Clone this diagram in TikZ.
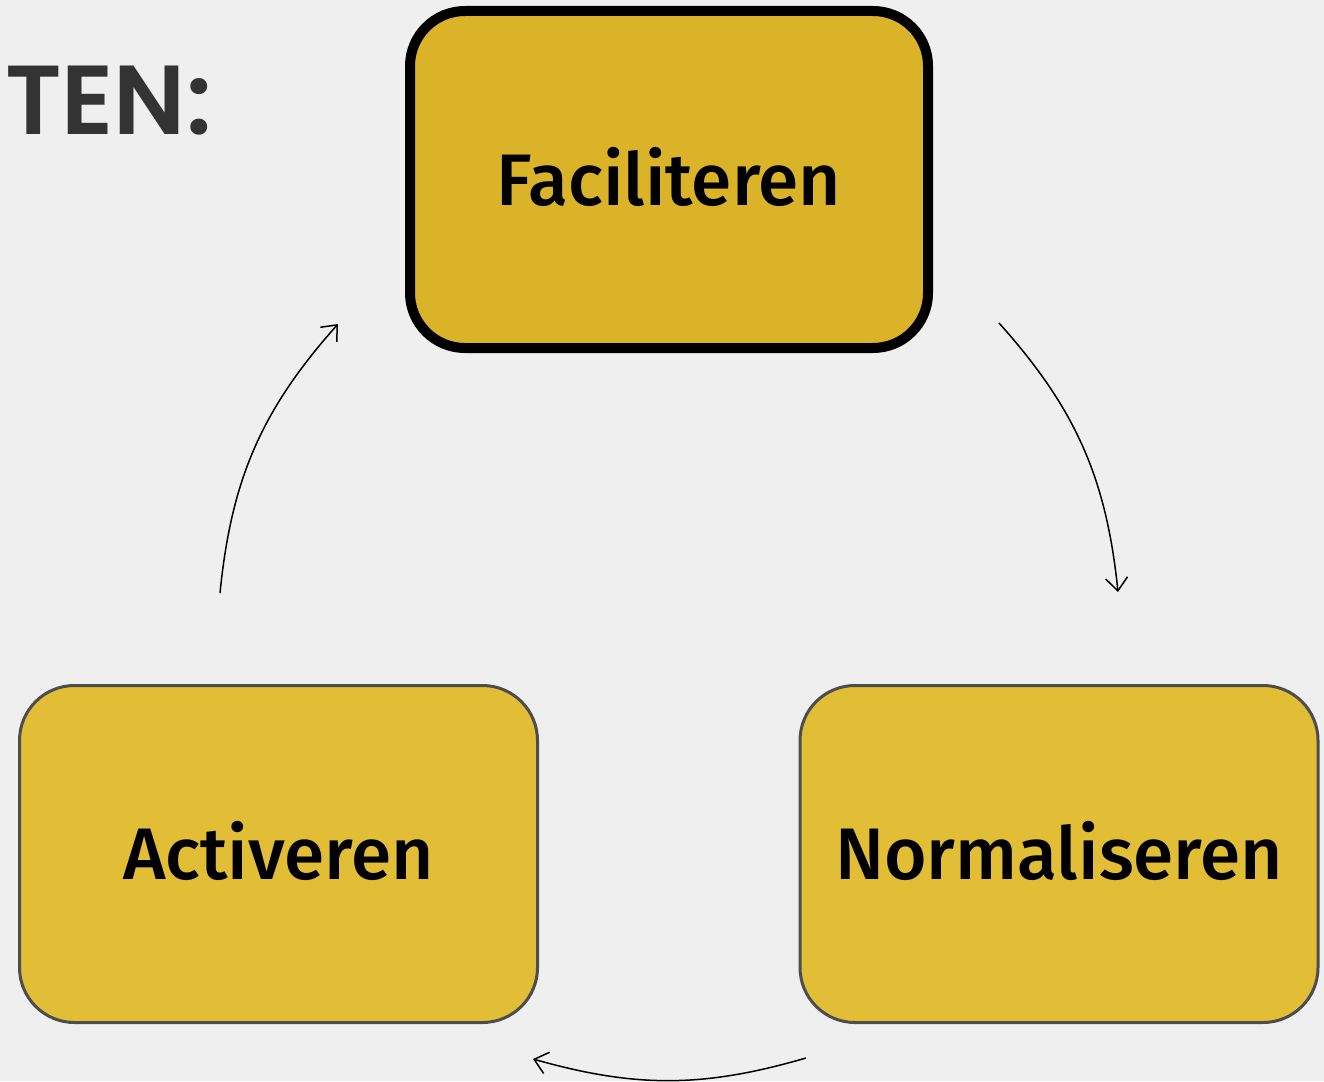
\documentclass[tikz,border=0pt]{standalone}
\usepackage{fontspec}
\usetikzlibrary{arrows.meta}
\newfontfamily\boxfont{Fira Sans}[UprightFont=* Medium]
\newfontfamily\headfont{Poppins}[UprightFont=* SemiBold]
\definecolor{bgcol}{RGB}{239,239,239}
\definecolor{faccol}{RGB}{218,179,41}
\definecolor{stepcol}{RGB}{225,190,53}
\definecolor{edgecol}{RGB}{77,77,77}
\definecolor{headcol}{RGB}{51,51,51}
\tikzset{
	stepbox/.style={rectangle,rounded corners=55pt,minimum width=518pt,minimum height=337pt,
		fill=stepcol,draw=edgecol,line width=3pt,text height=51pt,text depth=0pt,
		font=\boxfont\fontsize{73}{78}\selectfont},
	mainbox/.style={stepbox,fill=faccol,draw=black,line width=10pt},
	cycle/.style={line width=1.5pt,-{Straight Barb[length=13pt,width=22pt,line width=1.5pt]}}
}
\begin{document}
\begin{tikzpicture}[x=1pt,y=-1pt]
					\fill[bgcol] (0,0) rectangle (1324,1081);
					\useasboundingbox (0,0) rectangle (1324,1081);
					\node[anchor=base east,text=headcol,font=\headfont\fontsize{98}{100}\selectfont,inner sep=0pt] (head) at (212,134) {TEN:};
					\node[mainbox] (fac) at (669,179.5) {Faciliteren};
					\node[stepbox] (act) at (278.5,854) {Activeren};
					\node[stepbox] (norm) at (1059,854) {Normaliseren};
					\coordinate (a1) at (220,593);
					\coordinate (a2) at (338,324);
					\coordinate (b1) at (999,323);
					\coordinate (b2) at (1118,592);
					\coordinate (c1) at (806,1058);
					\coordinate (c2) at (533,1059);
					\draw[cycle] (a1) to [bend left=18] (a2);
					\draw[cycle] (b1) to [bend left=18] (b2);
					\draw[cycle] (c1) to [bend left=16] (c2);
				\end{tikzpicture}
\end{document}
